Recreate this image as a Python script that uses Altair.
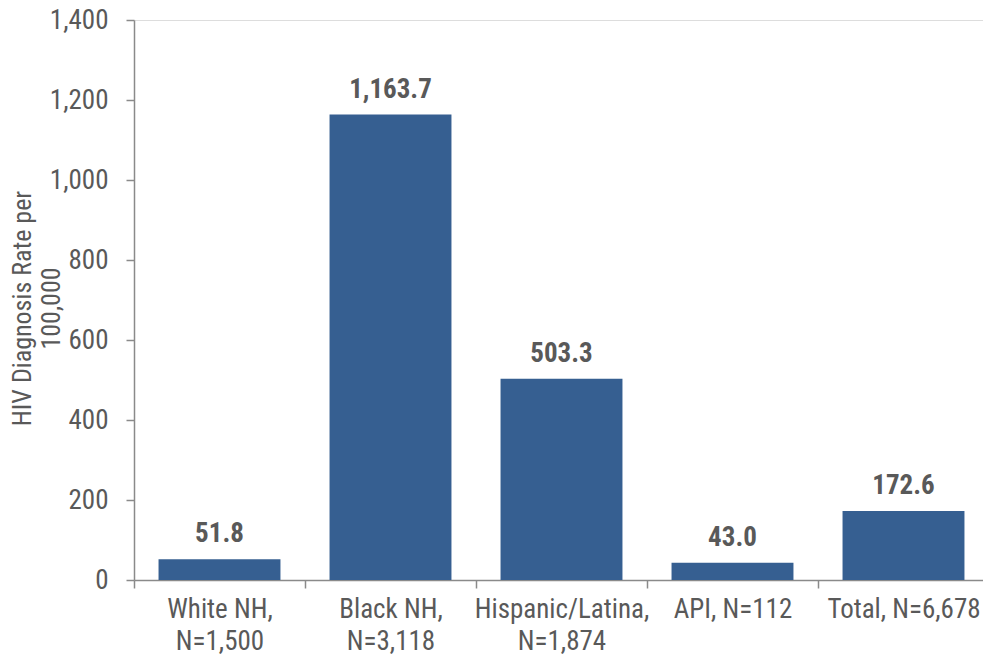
import altair as alt
import pandas as pd

categories = ["White NH,|N=1,500", "Black NH,|N=3,118", "Hispanic/Latina,|N=1,874", "API, N=112", "Total, N=6,678"]
rates = [51.8, 1163.7, 503.3, 43.0, 172.6]
rate_labels = ["51.8", "1,163.7", "503.3", "43.0", "172.6"]

df = pd.DataFrame({"cat": categories, "rate": rates, "lab": rate_labels})

FONT = "Liberation Sans Narrow, Arial Narrow, Roboto Condensed, DejaVu Sans Condensed, sans-serif"
TXT = "#595959"
AX = "#8a8a8a"

x = alt.X(
    "cat:N",
    sort=None,
    scale=alt.Scale(paddingInner=0, paddingOuter=0, range=[0, 855]),
    axis=alt.Axis(
        title=None,
        labelAngle=0,
        labelExpr="split(datum.label, '|')",
        labelFont=FONT,
        labelFontSize=27,
        labelColor=TXT,
        labelLineHeight=32,
        labelBaseline="top",
        labelPadding=8,
        tickBand="extent",
        tickSize=8,
        tickColor=AX,
        tickWidth=1.5,
        domainColor=AX,
        domainWidth=1.5,
        grid=False,
    ),
)

y = alt.Y(
    "rate:Q",
    scale=alt.Scale(domain=[0, 1400], nice=False),
    axis=alt.Axis(
        title=["HIV Diagnosis Rate per", "100,000"],
        titleFont=FONT,
        titleFontSize=26,
        titleFontWeight="normal",
        titleColor=TXT,
        titleLineHeight=29,
        titleAngle=-90,
        titleX=-125,
        titleY=288,
        titleAlign="center",
        titleBaseline="top",
        values=[0, 200, 400, 600, 800, 1000, 1200, 1400],
        format=",.0f",
        labelFont=FONT,
        labelFontSize=27,
        labelColor=TXT,
        labelPadding=18,
        tickSize=8,
        tickColor=AX,
        tickWidth=1.5,
        domainColor=AX,
        domainWidth=1.5,
        grid=False,
    ),
)

base = alt.Chart(df)
bars = base.mark_bar(color="#365F91", width=alt.RelativeBandSize(0.713)).encode(x=x, y=y)
texts = base.mark_text(
    font=FONT, fontSize=27, fontWeight="bold", color=TXT, baseline="alphabetic", dy=-17
).encode(x=alt.X("cat:N", sort=None), y="rate:Q", text="lab:N")

chart = (
    alt.layer(bars, texts)
    .properties(
        width=849,
        height=560,
        autosize=alt.AutoSizeParams(type="none"),
        padding={"left": 134, "top": 20, "right": 0, "bottom": 75},
    )
    .configure_view(stroke=None)
    .configure(background="white")
)

chart.save("out.html", embed_options={"renderer": "svg", "actions": False})
